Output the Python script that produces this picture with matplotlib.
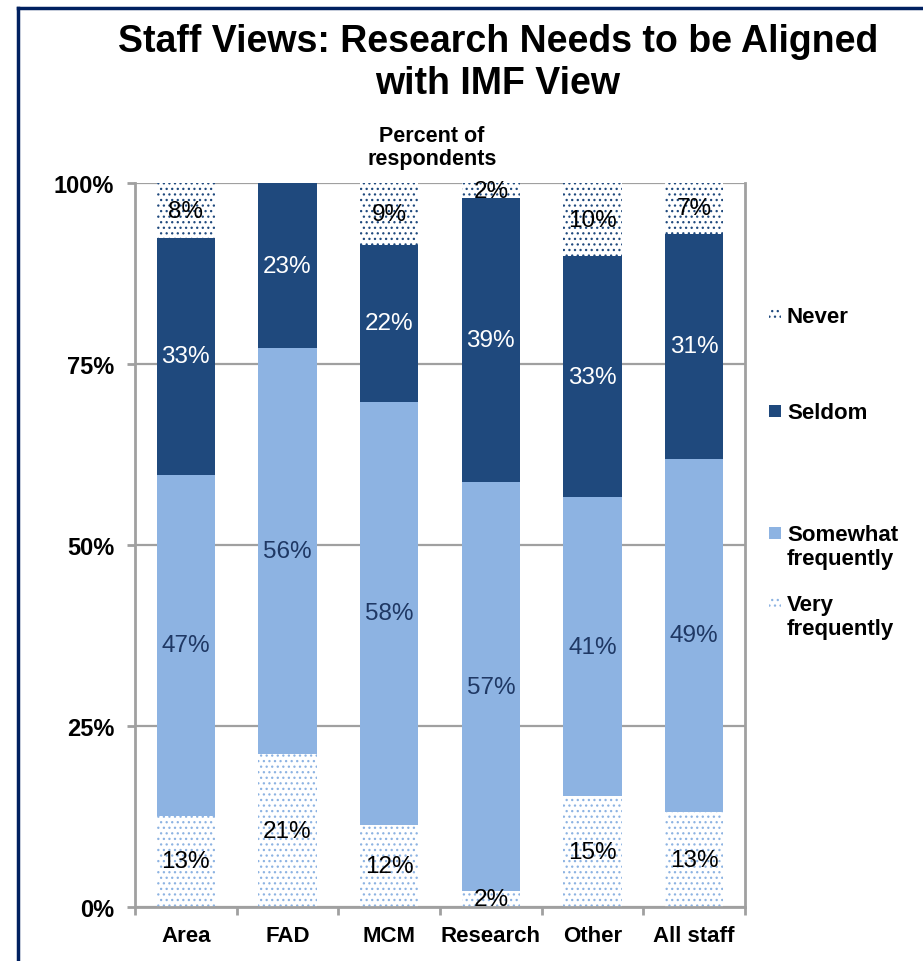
import matplotlib.pyplot as plt
from matplotlib.patches import Rectangle
from matplotlib.lines import Line2D
import numpy as np

# --- Data (percent of respondents) ---
CATEGORIES = ['Area', 'FAD', 'MCM', 'Research', 'Other', 'All staff']
VERY_FREQ = [12.6, 21.1, 11.3, 2.2, 15.3, 13.1]
SOMEWHAT = [47.1, 56.1, 58.5, 56.5, 41.3, 48.8]
SELDOM = [32.7, 22.8, 21.6, 39.2, 33.3, 31.1]
NEVER = [7.6, 0.0, 8.6, 2.1, 10.1, 7.0]

VERY_LBL = [13, 21, 12, 2, 15, 13]
SOMEWHAT_LBL = [47, 56, 58, 57, 41, 49]
SELDOM_LBL = [33, 23, 22, 39, 33, 31]
NEVER_LBL = [8, 0, 9, 2, 10, 7]

plt.rcParams['font.family'] = ['Liberation Sans', 'DejaVu Sans']
plt.rcParams['hatch.linewidth'] = 0.9

NAVY = '#1F497D'
LIGHT = '#8DB3E2'
GRID = '#A0A0A0'

fig = plt.figure(figsize=(9.23, 9.62), dpi=100)
W, H = 923, 962
ax = fig.add_axes([135 / W, 1 - 908 / H, 610 / W, 724 / H])

x = np.arange(len(CATEGORIES))
width = 0.575

vals = [VERY_FREQ, SOMEWHAT, SELDOM, NEVER]
lbls = [VERY_LBL, SOMEWHAT_LBL, SELDOM_LBL, NEVER_LBL]
styles = [
    dict(facecolor='white', edgecolor=LIGHT, hatch='...', linewidth=0),
    dict(facecolor=LIGHT, linewidth=0),
    dict(facecolor=NAVY, linewidth=0),
    dict(facecolor='white', edgecolor=NAVY, hatch='...', linewidth=0),
]
txt_colors = ['black', '#1F3864', 'white', 'black']

bottom = np.zeros(len(CATEGORIES))
for v, lab, st, tc in zip(vals, lbls, styles, txt_colors):
    v = np.array(v)
    ax.bar(x, v, width, bottom=bottom, zorder=2, **st)
    for xi, b, h, l in zip(x, bottom, v, lab):
        if l == 0:
            continue
        ax.text(xi, b + h / 2, f'{l}%', ha='center', va='center',
                fontsize=17.5, color=tc, zorder=3)
    bottom += v

ax.set_xlim(-0.5, len(CATEGORIES) - 0.5)
ax.set_ylim(0, 100)
ax.set_yticks([0, 25, 50, 75, 100])
ax.set_yticklabels(['0%', '25%', '50%', '75%', '100%'],
                   fontsize=17, fontweight='bold')
ax.set_xticks(x)
ax.set_xticklabels(CATEGORIES, fontsize=16, fontweight='bold')
ax.set_xticks(np.arange(-0.5, len(CATEGORIES)), minor=True)
ax.tick_params(axis='x', which='major', length=0, pad=13)
ax.tick_params(axis='x', which='minor', length=6, width=2, color=GRID)
ax.tick_params(axis='y', length=6, width=2, color=GRID, pad=9)

ax.yaxis.grid(True, color=GRID, linewidth=1.6, zorder=0)
ax.set_axisbelow(True)
for side in ['left', 'bottom', 'right', 'top']:
    ax.spines[side].set_color(GRID)
    ax.spines[side].set_linewidth(2)
ax.spines['top'].set_visible(False)

# Titles
fig.text(498 / W, 1 - 24 / H,
         'Staff Views: Research Needs to be Aligned\nwith IMF View',
         ha='center', va='top', fontsize=27, fontweight='bold',
         linespacing=1.22)
fig.text(432 / W, 1 - 126 / H, 'Percent of\nrespondents',
         ha='center', va='top', fontsize=15.5, fontweight='bold',
         linespacing=1.15)

# Legend (drawn manually to match spacing)
legend_items = [
    ('Never', styles[3], 316),
    ('Seldom', styles[2], 412),
    ('Somewhat\nfrequently', styles[1], 534),
    ('Very\nfrequently', styles[0], 604),
]
for text, st, ypix in legend_items:
    r = Rectangle((769 / W, 1 - (ypix + 6) / H), 12 / W, 12 / H,
                  transform=fig.transFigure, **st)
    fig.add_artist(r)
    fig.text(787 / W, 1 - (ypix - 9) / H, text, ha='left', va='top',
             fontsize=16, fontweight='bold', linespacing=1.2)

# Outer border (top and left)
fig.add_artist(Line2D([18 / W, 18 / W], [0, 1 - 9 / H],
                      transform=fig.transFigure, color='#002060', linewidth=2.5))
fig.add_artist(Line2D([18 / W, 1], [1 - 9 / H, 1 - 9 / H],
                      transform=fig.transFigure, color='#002060', linewidth=2.5))

fig.savefig('out.png', dpi=100)
